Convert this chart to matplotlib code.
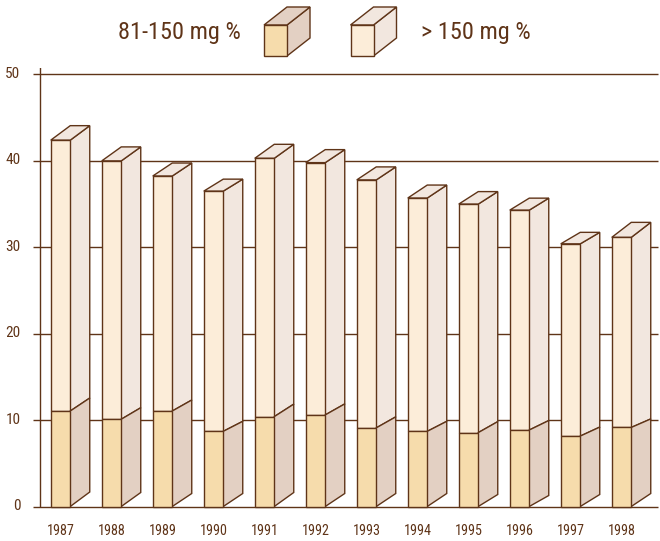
import matplotlib
matplotlib.use('Agg')
import matplotlib.pyplot as plt
from matplotlib.patches import Polygon
from matplotlib.transforms import ScaledTranslation

years = ['1987', '1988', '1989', '1990', '1991', '1992', '1993', '1994', '1995', '1996', '1997', '1998']
low_values = [11.05, 10.1, 11.05, 8.7, 10.4, 10.6, 9.1, 8.7, 8.55, 8.85, 8.15, 9.15]
total_values = [42.4, 40.0, 38.25, 36.5, 40.3, 39.8, 37.8, 35.7, 35.0, 34.3, 30.4, 31.15]
y_ticks = [0, 10, 20, 30, 40, 50]

# the 3d side of the bars is not even in the reference: depth in px at base, split and top
base_depth = [14.5, 14, 13, 13, 14, 13, 13, 13, 12, 11, 12, 13]
low_depth = [13, 11.5, 11, 10, 12.5, 11, 11, 10, 11, 9.5, 9, 8.5]
top_depth = [14.5, 14, 13, 12, 14, 13, 13, 13, 12.5, 12, 11.5, 15]

W, H = 660, 541
LINE = '#5f3418'
LOW_FRONT = '#f6dcac'
LOW_SIDE = '#e3d0c3'
HIGH_FRONT = '#fcedd9'
HIGH_SIDE = '#f2e7df'

plt.rcParams['font.family'] = ['Roboto Condensed', 'Roboto', 'DejaVu Sans']

fig = plt.figure(figsize=(W / 100, H / 100), dpi=100)

# axes run from the left tick end to the right edge, 0 at y=506.5 px, 50 at y=74.5 px
px_x0, px_x1 = 33, 658
px_y0, px_y50 = 506.5, 74.5
px_top = 68
ax = fig.add_axes([px_x0 / W, (H - px_y0) / H, (px_x1 - px_x0) / W, (px_y0 - px_top) / H])
px_per_year = 51.0
px_per_unit = (px_y0 - px_y50) / 50
ax.set_xlim((px_x0 - 60.5) / px_per_year, (px_x1 - 60.5) / px_per_year)
ax.set_ylim(0, (px_y0 - px_top) / px_per_unit)

half = 9.75 / px_per_year
dx = 19.5 / px_per_year


def box(a, x0, x1, y0, y1, ddx, ddy0, ddy1, front, side, top=None):
    kw = dict(edgecolor=LINE, linewidth=1.0, joinstyle='miter', clip_on=False, zorder=3)
    a.add_patch(Polygon([(x1, y0), (x1 + ddx, y0 + ddy0), (x1 + ddx, y1 + ddy1), (x1, y1)], facecolor=side, **kw))
    if top:
        a.add_patch(Polygon([(x0, y1), (x0 + ddx, y1 + ddy1), (x1 + ddx, y1 + ddy1), (x1, y1)], facecolor=top, **kw))
    a.add_patch(Polygon([(x0, y0), (x1, y0), (x1, y1), (x0, y1)], facecolor=front, **kw))


for i, (low, total) in enumerate(zip(low_values, total_values)):
    d0 = base_depth[i] / px_per_unit
    d1 = low_depth[i] / px_per_unit
    d2 = top_depth[i] / px_per_unit
    box(ax, i - half, i + half, low, total, dx, d1, d2, HIGH_FRONT, HIGH_SIDE, HIGH_SIDE)
    box(ax, i - half, i + half, 0, low, dx, d0, d1, LOW_FRONT, LOW_SIDE)

for s in ax.spines.values():
    s.set_visible(False)
ax.patch.set_visible(False)
ax.hlines(y_ticks, *ax.get_xlim(), color=LINE, linewidth=1.0, zorder=1, clip_on=False)
ax.axvline((40 - 60.5) / px_per_year, color=LINE, linewidth=1.0, zorder=1)

ax.set_xticks(range(len(years)), years)
ax.set_yticks(y_ticks)
ax.tick_params(axis='x', length=0, pad=12.5, labelsize=10.2, labelcolor=LINE)
ax.tick_params(axis='y', length=0, pad=9, labelsize=11, labelcolor=LINE)
# y labels sit a little above their lines in the reference
for lab in ax.get_yticklabels():
    lab.set_transform(lab.get_transform() + ScaledTranslation(0, 2 / 100, fig.dpi_scale_trans))

# legend, laid out in picture pixels
leg = fig.add_axes([0, 0, 1, 1])
leg.set_xlim(0, W)
leg.set_ylim(H, 0)
leg.axis('off')
box(leg, 264, 287, 56, 25, 23, -18, -18, LOW_FRONT, LOW_SIDE, LOW_SIDE)
box(leg, 350.5, 373.5, 56, 25, 23, -18, -18, HIGH_FRONT, HIGH_SIDE, HIGH_SIDE)
leg.text(118, 32.5, '81-150 mg %', fontsize=17.5, color=LINE, va='center', ha='left')
leg.text(421, 32.5, '> 150 mg %', fontsize=17.5, color=LINE, va='center', ha='left')

fig.savefig('out.png', dpi=100)
